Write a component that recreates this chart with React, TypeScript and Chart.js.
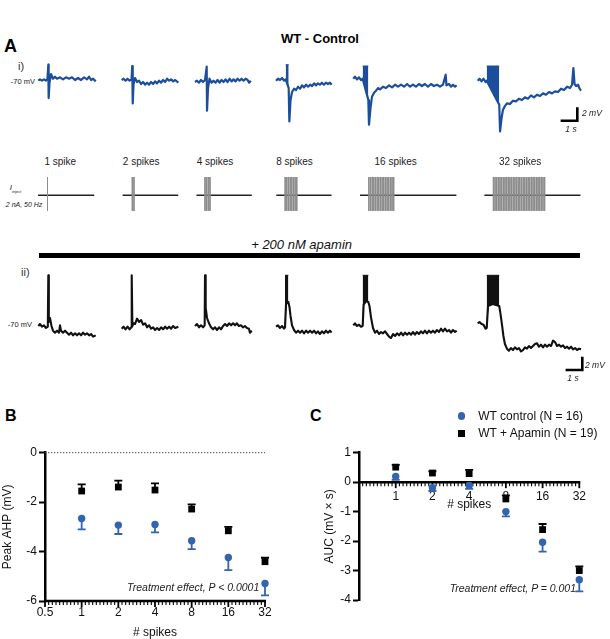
import React, { useEffect, useRef } from 'react';
import { Chart, registerables } from 'chart.js';

Chart.register(...registerables);

// ---------------- DATA ----------------
// spike counts per protocol
const spikeCounts = [1, 2, 4, 8, 16, 32];
const stimLabels = ['1 spike', '2 spikes', '4 spikes', '8 spikes', '16 spikes', '32 spikes'];

// Panel A i) WT control traces: [time (s from trace start), membrane potential (mV)]
const ctrlTrace1 = [[0,-70.0],[0.10,-69.8],[0.22,-70.0],[0.34,-69.8],[0.46,-70.0],[0.55,-69.7],[0.60,-67.6],[0.62,-72.6],[0.67,-70.3],[0.76,-69.0],[0.88,-69.7],[1.00,-69.4],[1.12,-69.7],[1.30,-69.5],[1.48,-69.8],[1.66,-69.5],[1.84,-69.7],[2.02,-69.5],[2.20,-69.9],[2.38,-69.6],[2.56,-69.9],[2.74,-69.5],[2.92,-69.8],[3.04,-69.4],[3.16,-69.9],[3.28,-69.7],[3.44,-70.1]];
const ctrlTrace2 = [[0,-69.9],[0.11,-69.7],[0.23,-70.0],[0.35,-69.7],[0.47,-70.0],[0.59,-69.8],[0.63,-67.8],[0.66,-73.4],[0.71,-70.5],[0.80,-69.6],[0.92,-70.2],[1.04,-70.0],[1.16,-70.5],[1.28,-70.2],[1.40,-70.6],[1.52,-70.3],[1.64,-70.6],[1.76,-70.2],[1.88,-70.5],[2.00,-70.1],[2.12,-70.4],[2.24,-70.0],[2.36,-70.3],[2.48,-69.9],[2.60,-70.2],[2.72,-69.7],[2.84,-70.0],[2.96,-69.8],[3.08,-70.1],[3.20,-69.9],[3.39,-70.3]];
const ctrlTrace3 = [[0,-70.2],[0.12,-70.0],[0.24,-70.3],[0.36,-69.9],[0.48,-70.2],[0.60,-69.9],[0.70,-67.9],[0.72,-74.5],[0.78,-71.1],[0.87,-69.7],[0.99,-70.3],[1.11,-70.0],[1.23,-70.3],[1.35,-69.9],[1.47,-70.3],[1.59,-69.9],[1.71,-70.2],[1.83,-69.8],[1.95,-70.2],[2.07,-69.7],[2.19,-70.1],[2.31,-69.8],[2.43,-70.1],[2.55,-69.7],[2.67,-70.0],[2.79,-69.7],[2.91,-70.0],[3.03,-69.7],[3.15,-69.9],[3.24,-70.3],[3.34,-70.0]];
const ctrlTrace4 = [[0,-70.0],[0.12,-69.7],[0.24,-69.9],[0.36,-69.6],[0.48,-70.0],[0.58,-69.8],[0.76,-71.1],[0.80,-76.1],[0.87,-72.9],[0.96,-71.7],[1.08,-71.2],[1.20,-71.4],[1.32,-70.9],[1.44,-71.2],[1.56,-70.7],[1.68,-71.0],[1.80,-70.6],[1.92,-70.9],[2.04,-70.6],[2.16,-70.8],[2.28,-70.4],[2.40,-70.7],[2.51,-70.4],[2.63,-70.6],[2.75,-70.3],[2.87,-70.6],[2.99,-70.3],[3.11,-70.5],[3.23,-70.3],[3.33,-70.6]];
const ctrlTrace5 = [[0,-69.7],[0.10,-69.4],[0.22,-69.8],[0.34,-69.5],[0.46,-69.9],[0.56,-69.7],[0.90,-72.9],[0.94,-76.6],[1.03,-74.1],[1.12,-72.4],[1.24,-71.8],[1.36,-71.5],[1.48,-71.1],[1.60,-71.3],[1.78,-70.9],[1.96,-71.1],[2.14,-70.7],[2.32,-71.0],[2.50,-70.6],[2.68,-70.9],[2.86,-70.6],[3.04,-70.9],[3.22,-70.5],[3.40,-70.9],[3.57,-70.6],[3.75,-70.9],[3.93,-70.5],[4.11,-70.8],[4.29,-70.5],[4.47,-70.9],[4.65,-70.5],[4.83,-70.8],[5.01,-70.6],[5.19,-70.9],[5.37,-70.6],[5.53,-69.1],[5.58,-70.7],[5.73,-70.5],[5.85,-70.9],[5.97,-70.6],[6.09,-70.9],[6.19,-70.7]];
const ctrlTrace6 = [[0,-70.0],[0.11,-69.7],[0.23,-70.1],[0.35,-69.7],[0.47,-70.2],[0.54,-70.0],[1.29,-73.6],[1.34,-77.6],[1.43,-75.6],[1.51,-74.4],[1.63,-73.8],[1.75,-73.4],[1.93,-73.5],[2.11,-73.0],[2.29,-73.1],[2.47,-72.7],[2.65,-72.9],[2.83,-72.5],[3.01,-72.7],[3.19,-72.2],[3.37,-72.5],[3.55,-72.1],[3.73,-72.3],[3.91,-71.9],[4.09,-72.1],[4.27,-71.7],[4.45,-71.9],[4.63,-71.6],[4.81,-71.7],[4.99,-71.2],[5.17,-71.4],[5.35,-70.9],[5.53,-71.1],[5.65,-70.6],[5.73,-68.1],[5.80,-70.5],[5.89,-70.8],[6.01,-70.6],[6.10,-71.2],[6.19,-71.5]];
// burst envelopes: [start s, end s, peak mV] (null = single spikes)
const ctrlBursts = [null, null, null, [0.58, 0.76, -67.6], [0.56, 0.90, -67.8], [0.54, 1.29, -67.8]];

// Panel A ii) + apamin traces
const apaTrace1 = [[0,-70.0],[0.10,-69.7],[0.22,-70.1],[0.34,-69.9],[0.46,-70.3],[0.57,-70.1],[0.60,-62.4],[0.63,-69.4],[0.70,-68.8],[0.79,-70.0],[0.88,-70.7],[1.00,-71.0],[1.12,-70.7],[1.24,-71.0],[1.30,-69.9],[1.36,-70.7],[1.48,-71.0],[1.60,-70.7],[1.72,-71.0],[1.84,-71.3],[1.96,-71.0],[2.08,-71.4],[2.20,-71.1],[2.32,-71.4],[2.44,-71.1],[2.56,-71.4],[2.68,-71.0],[2.80,-71.3],[2.92,-71.1],[3.04,-71.4],[3.16,-71.2],[3.28,-71.6],[3.44,-71.4]];
const apaTrace2 = [[0,-70.4],[0.11,-70.1],[0.23,-70.5],[0.35,-70.1],[0.47,-70.5],[0.58,-70.2],[0.60,-62.4],[0.64,-70.0],[0.71,-69.6],[0.80,-69.7],[0.92,-68.9],[1.04,-69.4],[1.16,-69.1],[1.28,-69.8],[1.40,-69.6],[1.52,-70.2],[1.64,-69.9],[1.76,-70.4],[1.88,-70.2],[2.00,-70.6],[2.12,-70.3],[2.24,-70.6],[2.36,-70.2],[2.48,-70.5],[2.60,-70.1],[2.72,-70.4],[2.84,-70.1],[2.96,-70.4],[3.08,-70.0],[3.20,-70.3],[3.39,-70.1]];
const apaTrace3 = [[0,-70.0],[0.12,-69.7],[0.24,-70.2],[0.36,-69.9],[0.48,-70.2],[0.58,-69.9],[0.60,-62.4],[0.64,-67.3],[0.72,-68.8],[0.84,-69.6],[0.96,-70.2],[1.08,-70.5],[1.20,-70.2],[1.32,-70.6],[1.44,-70.2],[1.56,-70.5],[1.68,-70.0],[1.80,-69.7],[1.92,-70.0],[2.04,-69.6],[2.16,-69.9],[2.28,-69.6],[2.40,-69.9],[2.51,-69.6],[2.63,-70.0],[2.75,-69.9],[2.87,-70.2],[2.99,-70.0],[3.11,-70.3],[3.23,-70.4],[3.29,-71.0],[3.40,-70.7]];
const apaTrace4 = [[0,-70.1],[0.12,-69.9],[0.24,-70.3],[0.36,-70.0],[0.48,-70.4],[0.54,-70.2],[0.60,-66.7],[0.74,-66.4],[0.81,-67.2],[0.87,-68.5],[0.96,-69.9],[1.08,-70.6],[1.20,-71.0],[1.32,-70.7],[1.44,-71.0],[1.56,-70.7],[1.68,-71.1],[1.80,-70.7],[1.92,-71.0],[2.04,-70.7],[2.16,-71.0],[2.28,-70.7],[2.40,-71.1],[2.51,-70.8],[2.63,-71.2],[2.75,-70.8],[2.87,-71.1],[2.99,-70.7],[3.11,-71.0],[3.23,-70.7],[3.33,-71.0]];
const apaTrace5 = [[0,-69.9],[0.10,-69.6],[0.22,-70.0],[0.34,-69.8],[0.46,-70.1],[0.56,-70.0],[0.62,-66.8],[0.75,-66.3],[0.90,-66.4],[0.97,-67.0],[1.06,-68.7],[1.18,-70.3],[1.30,-71.0],[1.42,-70.7],[1.54,-71.2],[1.66,-70.9],[1.78,-71.1],[1.90,-70.8],[2.02,-71.2],[2.14,-71.6],[2.26,-71.8],[2.38,-71.2],[2.50,-71.5],[2.62,-71.1],[2.74,-71.4],[2.86,-71.0],[2.98,-71.4],[3.10,-71.0],[3.22,-71.3],[3.34,-71.0],[3.46,-71.3],[3.57,-70.9],[3.69,-71.3],[3.81,-70.9],[3.93,-71.2],[4.05,-70.8],[4.17,-71.1],[4.29,-70.7],[4.41,-71.1],[4.53,-70.7],[4.65,-71.0],[4.77,-70.7],[4.89,-71.0],[5.01,-70.6],[5.13,-70.9],[5.25,-70.4],[5.37,-70.8],[5.49,-70.4],[5.61,-70.8],[5.73,-70.6],[5.85,-71.0],[5.97,-70.6],[6.09,-70.9],[6.19,-70.7]];
const apaTrace6 = [[0,-69.6],[0.11,-69.4],[0.23,-69.7],[0.35,-69.8],[0.47,-70.4],[0.54,-70.3],[0.62,-67.0],[0.90,-66.7],[1.29,-67.0],[1.36,-68.1],[1.46,-69.9],[1.54,-71.5],[1.63,-72.7],[1.75,-73.4],[1.87,-73.7],[1.99,-73.3],[2.11,-73.6],[2.23,-73.2],[2.35,-73.5],[2.47,-73.3],[2.59,-73.8],[2.71,-73.6],[2.83,-73.2],[2.95,-73.4],[3.07,-73.0],[3.19,-73.3],[3.31,-73.0],[3.43,-72.7],[3.55,-72.6],[3.67,-73.1],[3.79,-72.8],[3.91,-73.2],[4.03,-72.8],[4.15,-73.1],[4.27,-72.8],[4.39,-73.0],[4.51,-72.2],[4.63,-72.4],[4.75,-73.0],[4.87,-72.8],[4.99,-73.1],[5.11,-72.9],[5.23,-73.3],[5.35,-73.1],[5.47,-73.4],[5.59,-73.1],[5.71,-73.5],[5.83,-73.3],[5.95,-73.6],[6.07,-73.4],[6.19,-73.5]];
const apaBursts = [null, null, null, [0.54, 0.74, -62.4], [0.56, 0.90, -62.4], [0.54, 1.29, -62.4]];

// Panel B: peak AHP (mV), mean and SEM
const peakAhpCtrl = [-2.66, -2.93, -2.90, -3.56, -4.24, -5.29];
const peakAhpCtrlSem = [0.44, 0.36, 0.32, 0.34, 0.51, 0.48];
const peakAhpApa = [-1.55, -1.39, -1.51, -2.28, -3.16, -4.41];
const peakAhpApaSem = [0.27, 0.26, 0.27, 0.19, 0.16, 0.16];

// Panel C: AUC (mV x s), mean and SEM
const aucCtrl = [0.19, -0.19, -0.11, -1.00, -2.04, -3.31];
const aucCtrlSem = [0.11, 0.11, 0.12, 0.16, 0.32, 0.40];
const aucApa = [0.51, 0.31, 0.29, -0.57, -1.61, -3.00];
const aucApaSem = [0.08, 0.06, 0.13, 0.12, 0.19, 0.14];

// tick labels
const xTicksB = [0.5, 1, 2, 4, 8, 16, 32];
const xTicksC = [1, 2, 4, 8, 16, 32];

// ---------------- LAYOUT / STYLE ----------------
const FONT = '"Liberation Sans", Arial, Helvetica, sans-serif';
const TRACE_BLUE = '#1b4e9d';
const MARK_BLUE = '#3364b0';
const REST_MV = -70;
const PX_PER_S = 16.7;
const PX_PER_MV = 6.67;
const TRACE_START_PX = [38.3, 121.7, 195, 276, 353.3, 477.7];
const STIM_LINE_PX = [[38.1, 94.2], [122.6, 178.2], [196.5, 251.8], [276.3, 331.5], [360, 456.4], [484.4, 580.5]];
const STIM_FIRST_PX = [47.5, 132.3, 205, 285.2, 368.9, 493.4];
const STIM_LABEL_X = [60.3, 141.2, 215, 294.5, 395.7, 520.2];
const PULSE_SPACING_S = 0.099;

function Label({ x, y, text, size = 12, bold = false, italic = false, align = 'left', color = '#111' }: any) {
  const tx = align === 'left' ? '0' : align === 'center' ? '-50%' : '-100%';
  return (
    <div style={{ position: 'absolute', left: x, top: y, transform: `translate(${tx}, -50%)`, fontSize: size, fontWeight: bold ? 700 : 400, fontStyle: italic ? 'italic' : 'normal', color, whiteSpace: 'nowrap', lineHeight: 1, fontFamily: FONT }}>{text}</div>
  );
}

function TraceRow({ traces, bursts, color, top, height, baselineY, scaleCorner, lineWidth }: any) {
  const ref = useRef<HTMLCanvasElement | null>(null);
  useEffect(() => {
    const yMax = REST_MV + (baselineY - top) / PX_PER_MV;
    const yMin = REST_MV - (top + height - baselineY) / PX_PER_MV;
    const datasets: any[] = [];
    traces.forEach((tr: number[][], k: number) => {
      const x0 = TRACE_START_PX[k] / PX_PER_S;
      const b = bursts[k];
      if (b) {
        const [s, e, peak] = b;
        const bottom = tr.filter(([t]) => t >= s - 1e-9 && t <= e + 1e-9);
        datasets.push({ data: bottom.map(([t]) => ({ x: x0 + t, y: peak })), borderColor: color, borderWidth: 1, fill: false });
        datasets.push({ data: bottom.map(([t, v]) => ({ x: x0 + t, y: v })), borderColor: color, borderWidth: 1, fill: '-1', backgroundColor: color });
      }
      datasets.push({ data: tr.map(([t, v]) => ({ x: x0 + t, y: v })), borderColor: color, borderWidth: lineWidth, fill: false, borderJoinStyle: 'round' });
    });
    const sx = scaleCorner[0] / PX_PER_S;
    const sy = REST_MV - (scaleCorner[1] - baselineY) / PX_PER_MV;
    datasets.push({ data: [{ x: sx - 1, y: sy }, { x: sx, y: sy }, { x: sx, y: sy + 2 }], borderColor: '#000', borderWidth: 2.6, fill: false, borderJoinStyle: 'miter' });
    const chart = new Chart(ref.current as HTMLCanvasElement, {
      type: 'scatter',
      data: { datasets: datasets.map((d) => ({ showLine: true, pointRadius: 0, pointHoverRadius: 0, tension: 0, clip: false, ...d })) },
      options: {
        animation: false, responsive: false, events: [],
        layout: { padding: 0 },
        plugins: { legend: { display: false }, tooltip: { enabled: false } },
        scales: {
          x: { type: 'linear', display: false, min: 0, max: 610 / PX_PER_S },
          y: { type: 'linear', display: false, min: yMin, max: yMax },
        },
      },
    } as any);
    return () => chart.destroy();
  }, []);
  return <canvas ref={ref} width={610} height={height} style={{ position: 'absolute', left: 0, top, width: 610, height }} />;
}

function StimRow({ top, height, baselineY }: any) {
  const ref = useRef<HTMLCanvasElement | null>(null);
  useEffect(() => {
    const UNIT_PX = 18.3;
    const yMax = (baselineY - top) / UNIT_PX;
    const yMin = -(top + height - baselineY) / UNIT_PX;
    const datasets: any[] = [];
    const pulses: any[] = [];
    spikeCounts.forEach((n, k) => {
      for (let i = 0; i < n; i++) {
        const x = STIM_FIRST_PX[k] / PX_PER_S + i * PULSE_SPACING_S;
        pulses.push({ x, y: 1 }, { x, y: -0.85 }, { x, y: null });
      }
    });
    datasets.push({ data: pulses, borderColor: '#8c8c8c', borderWidth: 1, spanGaps: false });
    STIM_LINE_PX.forEach(([a, b]) => {
      datasets.push({ data: [{ x: a / PX_PER_S, y: 0 }, { x: b / PX_PER_S, y: 0 }], borderColor: '#222', borderWidth: 1.6 });
    });
    const chart = new Chart(ref.current as HTMLCanvasElement, {
      type: 'scatter',
      data: { datasets: datasets.map((d) => ({ showLine: true, pointRadius: 0, pointHoverRadius: 0, tension: 0, clip: false, fill: false, ...d })) },
      options: {
        animation: false, responsive: false, events: [],
        layout: { padding: 0 },
        plugins: { legend: { display: false }, tooltip: { enabled: false } },
        scales: {
          x: { type: 'linear', display: false, min: 0, max: 610 / PX_PER_S },
          y: { type: 'linear', display: false, min: yMin, max: yMax },
        },
      },
    } as any);
    return () => chart.destroy();
  }, []);
  return <canvas ref={ref} width={610} height={height} style={{ position: 'absolute', left: 0, top, width: 610, height }} />;
}

function SummaryChart(p: any) {
  const ref = useRef<HTMLCanvasElement | null>(null);
  useEffect(() => {
    const xs = spikeCounts.map((n) => Math.log2(n));
    const axisPlugin = {
      id: 'customAxis',
      beforeDatasetsDraw(chart: any) {
        const { ctx } = chart;
        const x = chart.scales.x;
        const y = chart.scales.y;
        ctx.save();
        if (p.zeroLine) {
          const zy = y.getPixelForValue(0);
          ctx.strokeStyle = '#444';
          ctx.lineWidth = 1;
          ctx.setLineDash([1.3, 1.7]);
          ctx.beginPath();
          ctx.moveTo(x.left, zy);
          ctx.lineTo(x.right, zy);
          ctx.stroke();
          ctx.setLineDash([]);
        }
        const ay = y.getPixelForValue(p.axisAt);
        ctx.strokeStyle = '#000';
        ctx.lineWidth = 2.5;
        ctx.beginPath();
        ctx.moveTo(x.left - 1, ay);
        ctx.lineTo(x.right + 1, ay);
        ctx.stroke();
        for (let i = 0; i <= 60; i++) {
          const px = x.getPixelForValue(-1 + i / 10);
          const major = i % 10 === 0;
          ctx.lineWidth = major ? 1.8 : 1.1;
          ctx.beginPath();
          ctx.moveTo(px, ay);
          ctx.lineTo(px, ay + (major ? 6 : 4));
          ctx.stroke();
        }
        ctx.fillStyle = '#111';
        ctx.font = `12px ${FONT}`;
        ctx.textAlign = 'center';
        ctx.textBaseline = 'middle';
        p.xTicks.forEach((v: number) => {
          ctx.fillText(String(v), x.getPixelForValue(Math.log2(v)), ay + p.labelOffset);
        });
        ctx.fillText('# spikes', (x.left + x.right) / 2, ay + p.titleOffset);
        // error bars (one-sided)
        chart.data.datasets.forEach((ds: any, di: number) => {
          const meta = chart.getDatasetMeta(di);
          ds.data.forEach((pt: any, j: number) => {
            const el = meta.data[j];
            const yEnd = y.getPixelForValue(pt.y + ds.errDir * ds.sem[j]);
            ctx.strokeStyle = ds.errColor;
            ctx.lineWidth = 1.8;
            ctx.beginPath();
            ctx.moveTo(el.x, el.y);
            ctx.lineTo(el.x, yEnd);
            ctx.moveTo(el.x - 4, yEnd);
            ctx.lineTo(el.x + 4, yEnd);
            ctx.stroke();
          });
        });
        ctx.restore();
      },
    };
    const chart = new Chart(ref.current as HTMLCanvasElement, {
      type: 'scatter',
      data: {
        datasets: [
          { label: 'WT + Apamin (N = 19)', data: xs.map((x, i) => ({ x, y: p.apa[i] })), pointStyle: 'rect', pointRadius: 4.8, backgroundColor: '#000', borderColor: '#000', borderWidth: 0, sem: p.apaSem, errDir: 1, errColor: '#000', clip: false },
          { label: 'WT control (N = 16)', data: xs.map((x, i) => ({ x, y: p.ctrl[i] })), pointStyle: 'circle', pointRadius: 3.7, backgroundColor: MARK_BLUE, borderColor: MARK_BLUE, borderWidth: 0, sem: p.ctrlSem, errDir: -1, errColor: MARK_BLUE, clip: false },
        ],
      },
      options: {
        animation: false, responsive: false, events: [],
        layout: { padding: { left: 0, top: p.area.top, right: p.width - p.area.right, bottom: p.height - p.area.bottom } },
        plugins: { legend: { display: false }, tooltip: { enabled: false } },
        scales: {
          x: { type: 'linear', display: false, min: -1, max: 5 },
          y: {
            type: 'linear', position: 'left', min: p.yMin, max: p.yMax,
            afterFit: (s: any) => { s.width = p.area.left; },
            ticks: { stepSize: p.yStep, font: { family: FONT, size: 12 }, color: '#111', padding: 2, callback: (v: any) => String(v) },
            grid: { drawOnChartArea: false, drawTicks: true, tickLength: 6, tickWidth: 2, tickColor: '#000' },
            border: { display: true, color: '#000', width: 2.5 },
            title: { display: true, text: p.yTitle, font: { family: FONT, size: 12 }, color: '#111', padding: { top: p.yTitlePad, bottom: 0 } },
          },
        },
      },
      plugins: [axisPlugin],
    } as any);
    return () => chart.destroy();
  }, []);
  return <canvas ref={ref} width={p.width} height={p.height} style={{ position: 'absolute', left: p.left, top: p.top, width: p.width, height: p.height }} />;
}

export default function App() {
  return (
    <div style={{ position: 'absolute', left: 0, top: 0, width: 610, height: 639, background: '#fff', overflow: 'hidden', fontFamily: FONT }}>
      {/* Panel A */}
      <Label x={4} y={46} text="A" size={18} bold color="#000" />
      <Label x={320} y={37.5} text="WT - Control" size={13} bold align="center" color="#000" />
      <Label x={18} y={66} text="i)" size={11} color="#333" />
      <Label x={35} y={81.7} text="-70 mV" size={7.5} align="right" color="#222" />
      <TraceRow traces={[ctrlTrace1, ctrlTrace2, ctrlTrace3, ctrlTrace4, ctrlTrace5, ctrlTrace6]} bursts={ctrlBursts} color={TRACE_BLUE} top={55} height={85} baselineY={80.7} scaleCorner={[577.3, 120.7]} lineWidth={2.2} />
      <Label x={582} y={112.5} text="2 mV" size={8.5} italic color="#222" />
      <Label x={571} y={129} text="1 s" size={8.5} italic align="center" color="#222" />

      {stimLabels.map((s, i) => (
        <Label key={s} x={STIM_LABEL_X[i]} y={162.2} text={s} size={10} align="center" color="#222" />
      ))}
      <div style={{ position: 'absolute', left: 15.6, top: 188.6, transform: 'translate(-50%, -50%)', fontSize: 8, fontStyle: 'italic', whiteSpace: 'nowrap', lineHeight: 1, color: '#222' }}>
        I<sub style={{ fontSize: 4, fontStyle: 'normal' }}>inject</sub>
      </div>
      <Label x={5.8} y={204.2} text="2 nA, 50 Hz" size={7} italic color="#222" />
      <StimRow top={170} height={45} baselineY={195.3} />

      <Label x={301.6} y={244.4} text="+ 200 nM apamin" size={13} italic align="center" color="#111" />
      <div style={{ position: 'absolute', left: 38.9, top: 253.3, width: 541.6, height: 5, background: '#000' }} />
      <Label x={21} y={272} text="ii)" size={11} color="#333" />
      <Label x={32} y={325} text="-70 mV" size={7.5} align="right" color="#222" />
      <TraceRow traces={[apaTrace1, apaTrace2, apaTrace3, apaTrace4, apaTrace5, apaTrace6]} bursts={apaBursts} color="#111" top={262} height={123} baselineY={326} scaleCorner={[582.3, 370]} lineWidth={2.1} />
      <Label x={585} y={365} text="2 mV" size={8.5} italic color="#222" />
      <Label x={573} y={378.3} text="1 s" size={8.5} italic align="center" color="#222" />

      {/* Panel B */}
      <Label x={5} y={416} text="B" size={16} bold color="#000" />
      <SummaryChart left={0} top={430} width={300} height={209} area={{ left: 45, top: 22.7, right: 265, bottom: 171 }}
        yMin={-6} yMax={0} yStep={2} yTitle="Peak AHP (mV)" yTitlePad={0.8} axisAt={-6} xTicks={xTicksB}
        labelOffset={11.7} titleOffset={31.7} zeroLine
        ctrl={peakAhpCtrl} ctrlSem={peakAhpCtrlSem} apa={peakAhpApa} apaSem={peakAhpApaSem} />
      <Label x={259.3} y={586.7} text="Treatment effect, P < 0.0001" size={10.5} italic align="right" color="#222" />

      {/* Panel C */}
      <Label x={310} y={415.5} text="C" size={16} bold color="#000" />
      <div style={{ position: 'absolute', left: 458, top: 412.2, width: 7.4, height: 7.4, borderRadius: '50%', background: MARK_BLUE }} />
      <Label x={478.3} y={415.7} text="WT control (N = 16)" size={12} color="#111" />
      <div style={{ position: 'absolute', left: 458.3, top: 429.9, width: 6.8, height: 6.8, background: '#000' }} />
      <Label x={478.3} y={433.3} text="WT + Apamin (N = 19)" size={12} color="#111" />
      <SummaryChart left={300} top={430} width={310} height={209} area={{ left: 59, top: 22.7, right: 279.3, bottom: 170 }}
        yMin={-4} yMax={1} yStep={1} yTitle="AUC (mV × s)" yTitlePad={22} axisAt={0} xTicks={xTicksC}
        labelOffset={15} titleOffset={22.6} zeroLine={false}
        ctrl={aucCtrl} ctrlSem={aucCtrlSem} apa={aucApa} apaSem={aucApaSem} />
      <Label x={576} y={587.7} text="Treatment effect, P = 0.001" size={10.5} italic align="right" color="#222" />
    </div>
  );
}
